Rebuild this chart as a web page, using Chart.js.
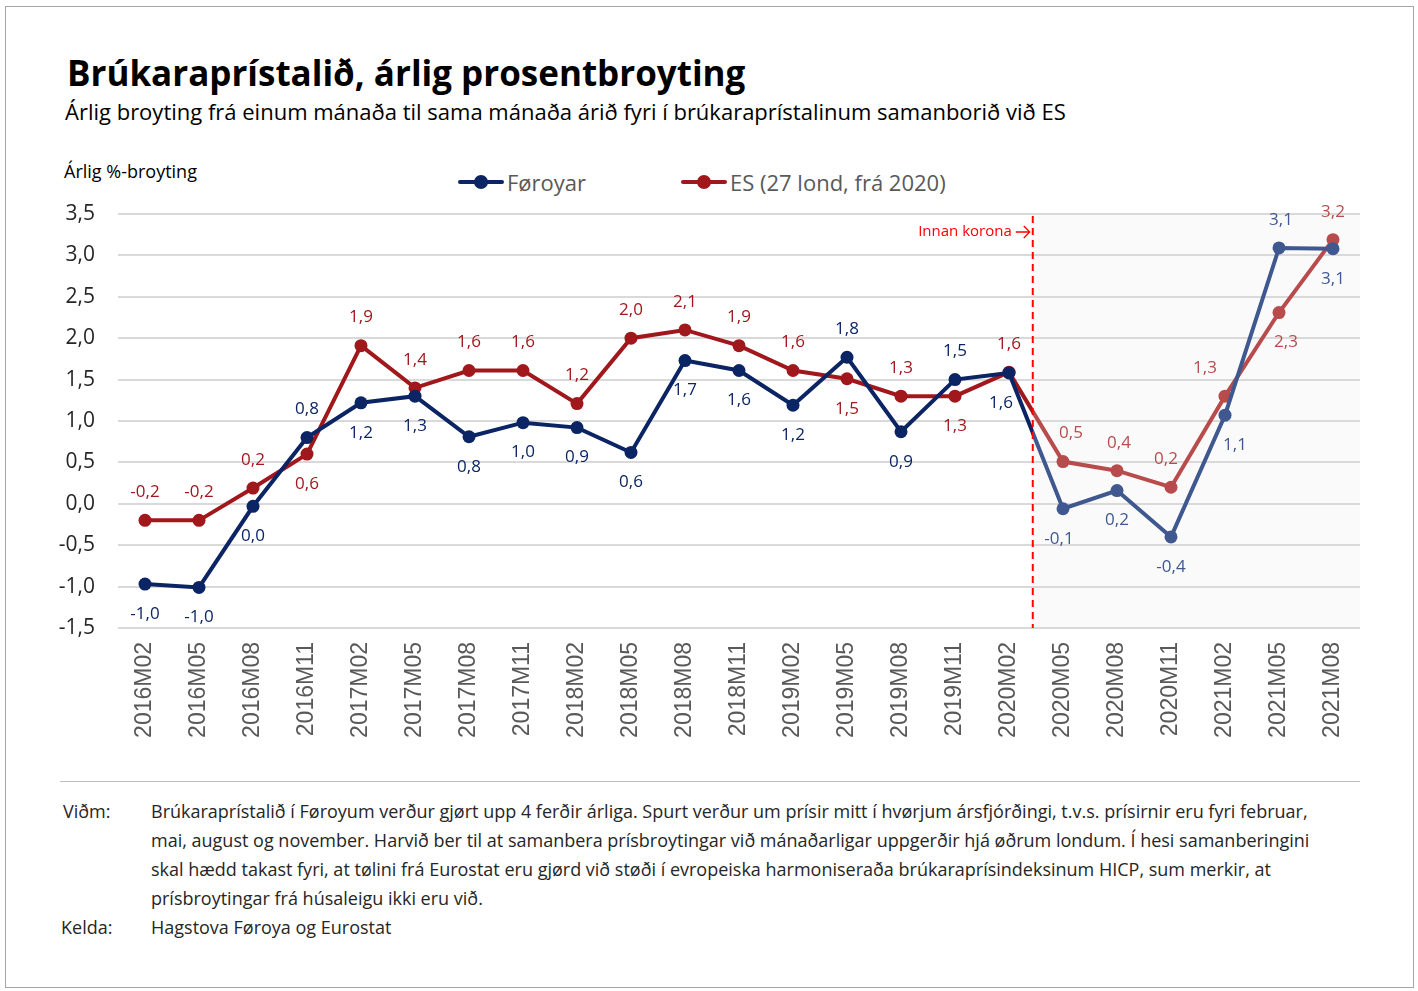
<!DOCTYPE html>
<html>
<head>
<meta charset="utf-8">
<script src="https://cdn.jsdelivr.net/npm/chart.js@4.4.1/dist/chart.umd.min.js"></script>
<style>
    body { margin: 0; background: #fff; font-family: "Open Sans", sans-serif; color: #262626; }
    .page { position: relative; width: 1418px; height: 991px; overflow: hidden; }
    .frame { position: absolute; left: 5px; top: 6px; width: 1409px; height: 982px; border: 1px solid #a6a6a6; box-sizing: border-box; }
    .abs { position: absolute; white-space: nowrap; line-height: 1; }
    #title { left: 67px; top: 55px; font-size: 35px; font-weight: bold; color: #000; }
    #subtitle { left: 65px; top: 100px; font-size: 22px; color: #000; }
    #ytitle { left: 64px; top: 162px; font-size: 18px; color: #000; }
    .legend { top: 171px; font-size: 22px; color: #595959; display: flex; align-items: center; }
    .legend .mark { position: relative; width: 46px; height: 22px; margin-right: 3px; }
    .legend .mark .ln { position: absolute; left: 0; right: 0; top: 9px; height: 4px; border-radius: 2px; }
    .legend .mark .dot { position: absolute; left: 16px; top: 4px; width: 14px; height: 14px; border-radius: 50%; }
    #chartBox { position: absolute; left: 40px; top: 195px; width: 1340px; height: 560px; }
    .sep { position: absolute; left: 60px; top: 781px; width: 1300px; height: 1px; background: #bfbfbf; }
    .note { font-size: 18px; line-height: 29px; color: #262626; }
    .note .lbl { position: absolute; left: 0; }
</style>
</head>
<body>
<div class="page">
    <div class="frame"></div>
    <div id="title" class="abs">Brúkaraprístalið, árlig prosentbroyting</div>
    <div id="subtitle" class="abs">Árlig broyting frá einum mánaða til sama mánaða árið fyri í brúkaraprístalinum samanborið við ES</div>
    <div id="ytitle" class="abs">Árlig %-broyting</div>
    <div class="abs legend" style="left:458px">
        <div class="mark"><div class="ln" style="background:#0b2463"></div><div class="dot" style="background:#0b2463"></div></div>Føroyar
    </div>
    <div class="abs legend" style="left:681px">
        <div class="mark"><div class="ln" style="background:#a0181c"></div><div class="dot" style="background:#a0181c"></div></div>ES (27 lond, frá 2020)
    </div>
    <div id="chartBox"><canvas id="chart"></canvas></div>
    <div class="sep"></div>
    <div class="abs note" style="left:63px; top:797px;">
        <span class="lbl">Viðm:</span>
        <div style="position:absolute; left:88px;">Brúkaraprístalið í Føroyum verður gjørt upp 4 ferðir árliga. Spurt verður um prísir mitt í hvørjum ársfjórðingi, t.v.s. prísirnir eru fyri februar,<br>mai, august og november. Harvið ber til at samanbera prísbroytingar við mánaðarligar uppgerðir hjá øðrum londum. Í hesi samanberingini<br>skal hædd takast fyri, at tølini frá Eurostat eru gjørd við støði í evropeiska harmoniseraða brúkaraprísindeksinum HICP, sum merkir, at<br>prísbroytingar frá húsaleigu ikki eru við.</div>
    </div>
    <div class="abs note" style="left:61px; top:913px;">
        <span class="lbl">Kelda:</span>
        <div style="position:absolute; left:90px;">Hagstova Føroya og Eurostat</div>
    </div>
</div>

<script>
// Dátur
const categories = ['2016M02', '2016M05', '2016M08', '2016M11', '2017M02', '2017M05', '2017M08', '2017M11',
    '2018M02', '2018M05', '2018M08', '2018M11', '2019M02', '2019M05', '2019M08', '2019M11',
    '2020M02', '2020M05', '2020M08', '2020M11', '2021M02', '2021M05', '2021M08'];
const foroyar = [-0.97, -1.01, -0.03, 0.80, 1.22, 1.30, 0.81, 0.98, 0.92, 0.62, 1.73, 1.61,
    1.19, 1.77, 0.87, 1.50, 1.58, -0.06, 0.16, -0.40, 1.07, 3.09, 3.08];
const es = [-0.20, -0.20, 0.19, 0.60, 1.91, 1.40, 1.61, 1.61, 1.21, 2.00, 2.10, 1.91,
    1.61, 1.51, 1.30, 1.30, 1.59, 0.51, 0.40, 0.20, 1.30, 2.31, 3.19];
const yMin = -1.5;
const yMax = 3.5;
const yStep = 0.5;
const lastBeforeKorona = 16; // 2020M02
const koronaText = 'Innan korona';

// Hvar talmerkini standa (a = omanfyri, b = niðanfyri) og vatnrøtt flyting
const foroyarPos = ['b','b','b','a','b','b','b','b','b','b','b','b','b','a','b','a','b','b','b','b','b','a','b'];
const foroyarDx  = [0,0,0,0,0,0,0,0,0,0,0,0,0,0,0,0,-8,-4,0,0,10,2,0];
const esPos = ['a','a','a','b','a','a','a','a','a','a','a','a','a','b','a','b','a','a','a','a','a','b','a'];
const esDx  = [0,0,0,0,0,0,0,0,0,0,0,0,0,0,0,0,0,8,2,-5,-20,7,0];

const colors = {
    foroyar: '#0b2463', foroyarLight: '#3f5890',
    es: '#a0181c', esLight: '#b84c4c'
};

function fmt(v) {
    return (Math.round(v * 10) / 10).toFixed(1).replace('.', ',');
}

function koronaX(chart) {
    const x = chart.scales.x;
    const a = x.getPixelForValue(lastBeforeKorona);
    const b = x.getPixelForValue(lastBeforeKorona + 1);
    return a + (b - a) * 0.44;
}

function splitColor(dark, light) {
    return function(context) {
        const chart = context.chart;
        const area = chart.chartArea;
        if (!area || !chart.scales.x) return dark;
        const f = (koronaX(chart) - area.left) / (area.right - area.left);
        const g = chart.ctx.createLinearGradient(area.left, 0, area.right, 0);
        g.addColorStop(0, dark);
        g.addColorStop(f, dark);
        g.addColorStop(f, light);
        g.addColorStop(1, light);
        return g;
    };
}

function pointColor(dark, light) {
    return ctx => ctx.dataIndex <= lastBeforeKorona ? dark : light;
}

const koronaPlugin = {
    id: 'korona',
    beforeDraw(chart) {
        const { ctx, chartArea } = chart;
        const x = koronaX(chart);
        ctx.save();
        ctx.fillStyle = '#fafafa';
        ctx.fillRect(x, chartArea.top, chartArea.right - x, chartArea.bottom - chartArea.top);
        ctx.restore();
    },
    afterDatasetsDraw(chart) {
        const { ctx, chartArea } = chart;
        const x = koronaX(chart);
        ctx.save();
        ctx.strokeStyle = '#ff0000';
        ctx.lineWidth = 2;
        ctx.setLineDash([7, 5]);
        ctx.beginPath();
        ctx.moveTo(x, chartArea.top + 2);
        ctx.lineTo(x, chartArea.bottom);
        ctx.stroke();
        ctx.setLineDash([]);

        // tekstur og pílur
        const ty = chartArea.top + 18;
        ctx.fillStyle = '#ff0000';
        ctx.font = '15px "Open Sans"';
        ctx.textAlign = 'right';
        ctx.textBaseline = 'middle';
        ctx.fillText(koronaText, x - 21, ty);
        ctx.lineWidth = 1.3;
        ctx.beginPath();
        ctx.moveTo(x - 17, ty);
        ctx.lineTo(x - 3, ty);
        ctx.moveTo(x - 9, ty - 6);
        ctx.lineTo(x - 3, ty);
        ctx.lineTo(x - 9, ty + 6);
        ctx.stroke();

        // talmerki
        ctx.font = '17px "Open Sans"';
        ctx.textAlign = 'center';
        const sets = [
            { pos: foroyarPos, dx: foroyarDx, dark: colors.foroyar, light: colors.foroyarLight },
            { pos: esPos, dx: esDx, dark: colors.es, light: colors.esLight }
        ];
        chart.data.datasets.forEach((ds, di) => {
            const meta = chart.getDatasetMeta(di);
            const s = sets[di];
            meta.data.forEach((pt, i) => {
                ctx.fillStyle = i <= lastBeforeKorona ? s.dark : s.light;
                const dy = s.pos[i] === 'a' ? -28 : 30;
                ctx.fillText(fmt(ds.data[i]), pt.x + s.dx[i], pt.y + dy);
            });
        });
        ctx.restore();
    }
};

new Chart(document.getElementById('chart'), {
    type: 'line',
    data: {
        labels: categories,
        datasets: [
            {
                label: 'Føroyar',
                data: foroyar,
                borderColor: splitColor(colors.foroyar, colors.foroyarLight),
                backgroundColor: pointColor(colors.foroyar, colors.foroyarLight),
                pointBackgroundColor: pointColor(colors.foroyar, colors.foroyarLight),
                pointBorderColor: pointColor(colors.foroyar, colors.foroyarLight),
                borderWidth: 4,
                pointRadius: 6.5,
                pointBorderWidth: 0,
                tension: 0
            },
            {
                label: 'ES (27 lond, frá 2020)',
                data: es,
                borderColor: splitColor(colors.es, colors.esLight),
                backgroundColor: pointColor(colors.es, colors.esLight),
                pointBackgroundColor: pointColor(colors.es, colors.esLight),
                pointBorderColor: pointColor(colors.es, colors.esLight),
                borderWidth: 4,
                pointRadius: 6.5,
                pointBorderWidth: 0,
                tension: 0
            }
        ]
    },
    options: {
        responsive: true,
        maintainAspectRatio: false,
        animation: false,
        events: [],
        layout: { padding: { top: 19, right: 20, bottom: 0, left: 0 } },
        plugins: {
            legend: { display: false },
            tooltip: { enabled: false }
        },
        scales: {
            x: {
                offset: true,
                grid: { display: false, drawTicks: false },
                border: { display: false },
                ticks: {
                    color: '#595959',
                    font: { family: 'Liberation Sans', size: 23 },
                    maxRotation: 90,
                    minRotation: 90,
                    autoSkip: false,
                    padding: 14
                },
                afterFit: scale => { scale.height = 127; }
            },
            y: {
                min: yMin,
                max: yMax,
                grid: { color: '#d9d9d9', lineWidth: 2, drawTicks: false },
                border: { display: false },
                ticks: {
                    stepSize: yStep,
                    color: '#262626',
                    font: { family: 'Open Sans', size: 21 },
                    padding: 23,
                    callback: v => v.toFixed(1).replace('.', ',')
                },
                afterFit: scale => {
                    scale.width = 78;
                    scale.paddingTop = 0;
                    scale.paddingBottom = 0;
                }
            }
        }
    },
    plugins: [koronaPlugin]
});
</script>
</body>
</html>
